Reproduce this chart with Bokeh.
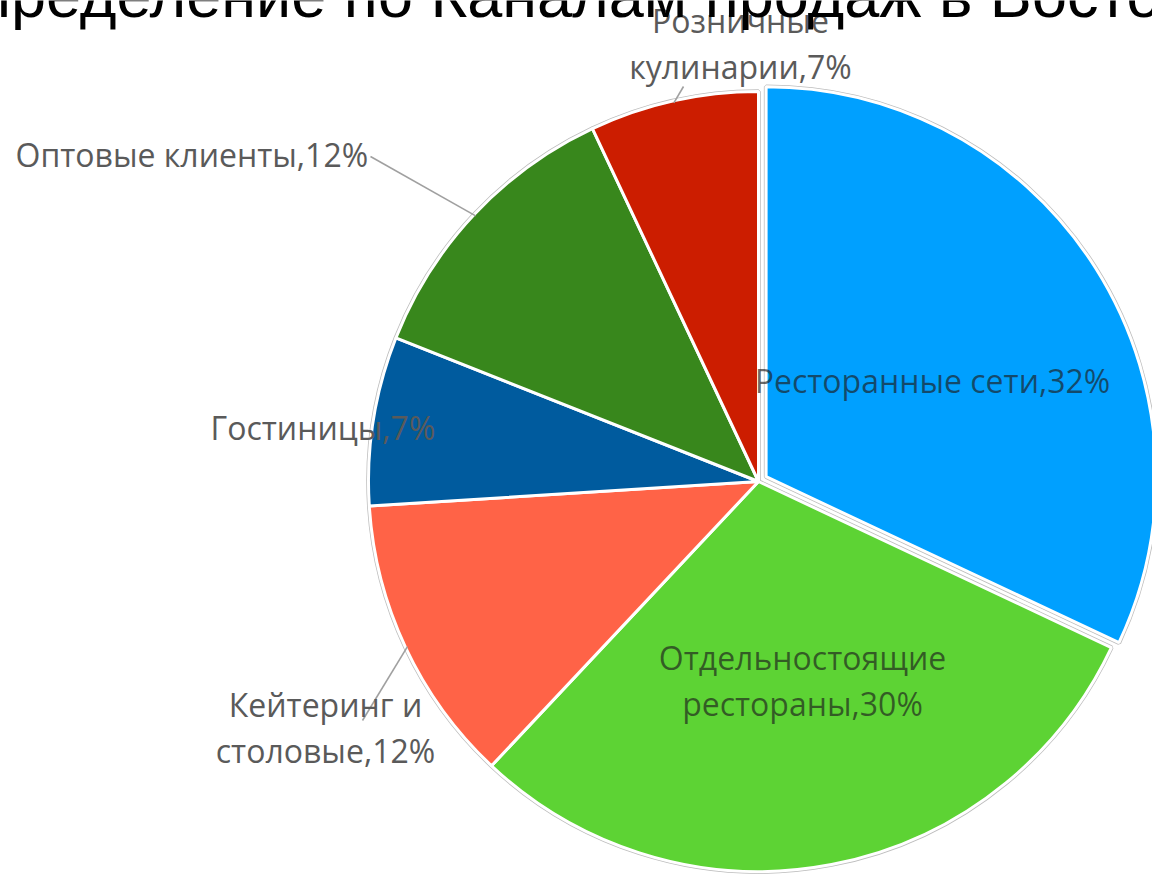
import math
from bokeh.plotting import figure
from bokeh.models import ColumnDataSource, Range1d
from bokeh.core.properties import value
from bokeh.embed import file_html
from bokeh.resources import INLINE

# ---------------- data ----------------
categories = ["Ресторанные сети", "Отдельностоящие рестораны", "Кейтеринг и столовые",
              "Гостиницы", "Оптовые клиенты", "Розничные кулинарии"]
shares = [32, 30, 12, 7, 12, 7]
colors = ["#00A0FF", "#5DD334", "#FF6347", "#005B9E", "#38871C", "#CC1D00"]
label_lines = [["Ресторанные сети,32%"],
               ["Отдельностоящие", "рестораны,30%"],
               ["Кейтеринг и", "столовые,12%"],
               ["Гостиницы,7%"],
               ["Оптовые клиенты,12%"],
               ["Розничные", "кулинарии,7%"]]
title_text = "Распределение по Каналам продаж в Восто"

# ---------------- layout (reference pixel space) ----------------
W, H = 1152, 877
CX, CY, R = 758, 481, 390
explode = [9, 0, 0, 0, 0, 0]
# label anchor x, y, alignment, inside?
label_pos = [(932, 380, "center", True),
             (802, 680, "center", True),
             (325, 727, "center", False),
             (210, 427, "left", False),
             (15, 154, "left", False),
             (740, 43, "center", False)]
leader_end = [None, None, (362, 720), None, (370, 156), (683, 86)]

def Y(v):
    return H - v

p = figure(width=W, height=H, output_backend="svg", toolbar_location=None,
           x_range=Range1d(0, W), y_range=Range1d(0, H), min_border=0)
p.axis.visible = False
p.grid.visible = False
p.outline_line_color = None
p.background_fill_color = "white"
p.border_fill_color = "white"

total = sum(shares)
xs, ys, sa, ea, mids = [], [], [], [], []
cum = 0
for s, ex in zip(shares, explode):
    a0 = math.pi / 2 - 2 * math.pi * cum / total
    cum += s
    a1 = math.pi / 2 - 2 * math.pi * cum / total
    m = (a0 + a1) / 2
    mids.append(m)
    xs.append(CX + ex * math.cos(m))
    ys.append(Y(CY) + ex * math.sin(m))
    sa.append(a1)
    ea.append(a0)

src = ColumnDataSource(dict(x=xs, y=ys, start=sa, end=ea, color=colors, cat=categories, share=shares))

# grey rim
p.wedge(x="x", y="y", radius=R, start_angle="start", end_angle="end", source=src,
        fill_color=None, line_color="#BDBDBD", line_width=4.5)
# slices
p.wedge(x="x", y="y", radius=R, start_angle="start", end_angle="end", source=src,
        fill_color="color", line_color="white", line_width=3)

# leader lines
for i, end in enumerate(leader_end):
    if end is None:
        continue
    m = mids[i]
    sx = xs[i] + (R - 2) * math.cos(m)
    sy = ys[i] + (R - 2) * math.sin(m)
    p.line([sx, end[0]], [sy, Y(end[1])], line_color="#A0A0A0", line_width=1.6)

# labels
for i, lines in enumerate(label_lines):
    lx, ly, align, inside = label_pos[i]
    p.text(x=[lx], y=[Y(ly)], text=["\n".join(lines)],
           text_font=value("Open Sans"), text_font_size="32px",
           text_color="#1E1E1E" if inside else "#5A5A5A",
           text_alpha=0.66 if inside else 1.0,
           text_align=align, text_baseline="middle", text_line_height=1.05)

# title (cut off by the frame, as in the reference)
p.text(x=[-130], y=[Y(-6)], text=[title_text], text_font=value("Liberation Sans"),
       text_font_size="63px", text_color="black", text_align="left",
       text_baseline="alphabetic")

open("out.html", "w").write(file_html(p, INLINE))
